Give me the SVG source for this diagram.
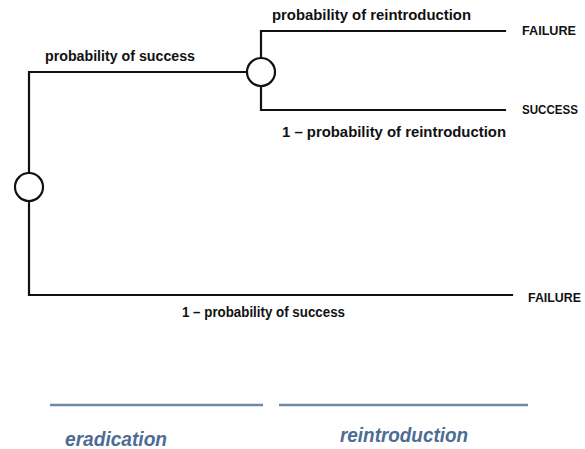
<svg xmlns="http://www.w3.org/2000/svg" width="585" height="449" viewBox="0 0 585 449">
<style>
.ln{fill:none;stroke:#111;stroke-width:2.2;stroke-linecap:square;stroke-linejoin:miter}
.node{fill:#fff;stroke:#111;stroke-width:2.2}
.lbl{font-family:"Liberation Sans","DejaVu Sans",sans-serif;font-weight:bold;font-size:14.5px;fill:#111}
.out{font-family:"Liberation Sans","DejaVu Sans",sans-serif;font-weight:bold;font-size:13px;fill:#111}
.phase{fill:none;stroke:#7189a8;stroke-width:2.6}
.ph{font-family:"Liberation Sans","DejaVu Sans",sans-serif;font-weight:bold;font-style:italic;font-size:20px;fill:#4d6c95}
</style>
<rect width="585" height="449" fill="#fff"/>
<g id="connectors">
<path class="ln" d="M29,174 V72 H248"/>
<path class="ln" d="M29,200 V295 H512"/>
<path class="ln" d="M261,58 V31 H505"/>
<path class="ln" d="M261,86 V110 H505"/>
</g>
<g id="chance1"><circle class="node" cx="29" cy="187" r="14"/></g>
<g id="chance2"><circle class="node" cx="261" cy="72" r="14"/></g>
<g id="labels">
<text class="lbl" x="45" y="61" textLength="150" lengthAdjust="spacingAndGlyphs">probability of success</text>
<text class="lbl" x="272" y="20" textLength="199" lengthAdjust="spacingAndGlyphs">probability of reintroduction</text>
<text class="lbl" x="282" y="137" textLength="224" lengthAdjust="spacingAndGlyphs">1 – probability of reintroduction</text>
<text class="lbl" x="182" y="317" textLength="163" lengthAdjust="spacingAndGlyphs">1 – probability of success</text>
</g>
<g id="outcome-failure-1"><text class="out" x="522" y="35" textLength="54" lengthAdjust="spacingAndGlyphs">FAILURE</text></g>
<g id="outcome-success"><text class="out" x="522" y="114" textLength="56" lengthAdjust="spacingAndGlyphs">SUCCESS</text></g>
<g id="outcome-failure-2"><text class="out" x="528" y="302" textLength="53" lengthAdjust="spacingAndGlyphs">FAILURE</text></g>
<g id="phases">
<line class="phase" x1="50" y1="405" x2="263" y2="405"/>
<line class="phase" x1="279" y1="405" x2="528" y2="405"/>
<text class="ph" x="65" y="446" textLength="102" lengthAdjust="spacingAndGlyphs">eradication</text>
<text class="ph" x="340" y="442" textLength="128" lengthAdjust="spacingAndGlyphs">reintroduction</text>
</g>
</svg>
